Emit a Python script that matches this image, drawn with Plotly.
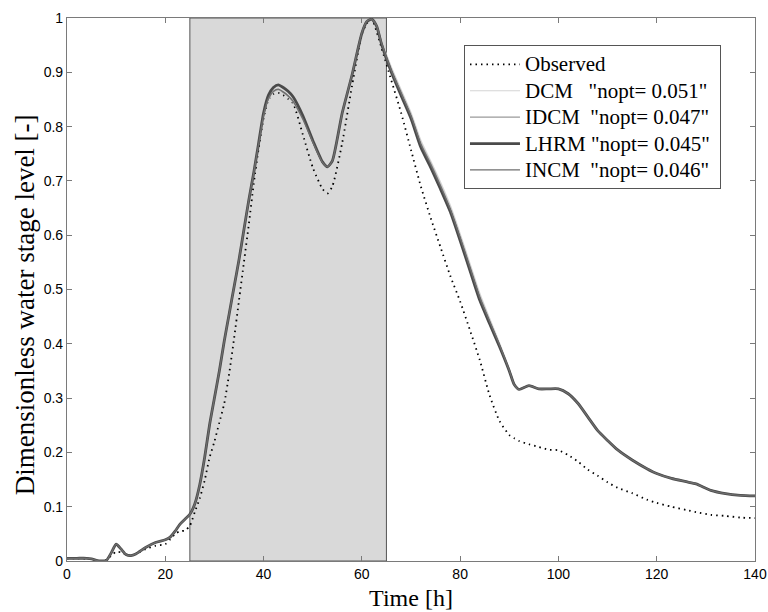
import plotly.graph_objects as go

# ---- data ----
time_h = [0, 2, 4, 5, 6, 7, 8, 9, 10, 11, 12, 13, 14, 16, 18, 20, 21, 22, 23, 24,
          25, 26, 27, 28, 29, 30, 31, 32, 33, 34, 35, 36, 37, 38, 39, 40, 41, 42, 43, 44,
          45, 46, 48, 50, 52, 53, 54, 56, 58, 60, 61, 62, 63, 64, 66, 68, 70, 72, 74, 76,
          78, 80, 82, 84, 86, 88, 90, 91, 92, 94, 96, 98, 100, 102, 104, 106, 108, 110, 112, 115,
          118, 120, 123, 126, 128, 131, 134, 137, 140]

observed = [0.005, 0.005, 0.004, 0.003, 0.000, 0.000, 0.002, 0.010, 0.017, 0.016, 0.012, 0.010, 0.013, 0.022, 0.028, 0.031, 0.040, 0.050, 0.055, 0.056,
            0.065, 0.090, 0.115, 0.148, 0.190, 0.220, 0.255, 0.290, 0.345, 0.410, 0.480, 0.550, 0.620, 0.695, 0.760, 0.815, 0.850, 0.860, 0.862, 0.858,
            0.851, 0.843, 0.785, 0.725, 0.685, 0.677, 0.690, 0.770, 0.875, 0.970, 0.990, 0.998, 0.975, 0.945, 0.885, 0.825, 0.757, 0.690, 0.632, 0.578,
            0.525, 0.478, 0.425, 0.370, 0.305, 0.258, 0.232, 0.226, 0.221, 0.215, 0.210, 0.205, 0.204, 0.195, 0.183, 0.168, 0.157, 0.145, 0.135, 0.125,
            0.113, 0.107, 0.100, 0.094, 0.090, 0.085, 0.083, 0.080, 0.079]

lhrm = [0.005, 0.005, 0.005, 0.004, 0.001, 0.000, 0.001, 0.015, 0.031, 0.022, 0.012, 0.010, 0.013, 0.025, 0.034, 0.039, 0.044, 0.055, 0.068, 0.077,
        0.086, 0.105, 0.140, 0.190, 0.250, 0.300, 0.350, 0.405, 0.455, 0.505, 0.555, 0.610, 0.665, 0.715, 0.770, 0.825, 0.858, 0.872, 0.877, 0.872,
        0.865, 0.855, 0.820, 0.775, 0.735, 0.726, 0.737, 0.825, 0.895, 0.972, 0.993, 0.998, 0.985, 0.952, 0.900, 0.857, 0.815, 0.762, 0.725, 0.685,
        0.643, 0.590, 0.535, 0.480, 0.437, 0.395, 0.350, 0.325, 0.316, 0.323, 0.317, 0.317, 0.317, 0.308, 0.290, 0.265, 0.240, 0.222, 0.205, 0.186,
        0.170, 0.161, 0.152, 0.146, 0.142, 0.130, 0.124, 0.121, 0.120]

dcm = [0.005, 0.005, 0.005, 0.004, 0.001, 0.000, 0.001, 0.015, 0.031, 0.022, 0.012, 0.010, 0.013, 0.025, 0.034, 0.039, 0.044, 0.055, 0.068, 0.077,
       0.086, 0.105, 0.140, 0.190, 0.250, 0.300, 0.350, 0.405, 0.455, 0.505, 0.555, 0.610, 0.665, 0.715, 0.768, 0.820, 0.850, 0.863, 0.867, 0.862,
       0.855, 0.845, 0.812, 0.770, 0.733, 0.725, 0.736, 0.825, 0.897, 0.975, 0.995, 0.999, 0.988, 0.958, 0.910, 0.868, 0.826, 0.775, 0.737, 0.698,
       0.655, 0.603, 0.548, 0.493, 0.447, 0.402, 0.354, 0.327, 0.317, 0.324, 0.318, 0.318, 0.318, 0.309, 0.291, 0.266, 0.241, 0.223, 0.206, 0.187,
       0.171, 0.162, 0.153, 0.147, 0.143, 0.131, 0.125, 0.122, 0.121]

idcm = [0.005, 0.005, 0.005, 0.004, 0.001, 0.000, 0.001, 0.015, 0.031, 0.022, 0.012, 0.010, 0.013, 0.025, 0.034, 0.039, 0.044, 0.055, 0.068, 0.077,
        0.086, 0.105, 0.140, 0.190, 0.250, 0.300, 0.350, 0.405, 0.455, 0.505, 0.555, 0.610, 0.665, 0.715, 0.768, 0.820, 0.851, 0.864, 0.868, 0.863,
        0.856, 0.846, 0.813, 0.771, 0.733, 0.725, 0.736, 0.825, 0.896, 0.974, 0.994, 0.998, 0.987, 0.956, 0.906, 0.864, 0.822, 0.770, 0.733, 0.693,
        0.650, 0.598, 0.543, 0.488, 0.443, 0.399, 0.352, 0.326, 0.316, 0.323, 0.317, 0.317, 0.317, 0.308, 0.290, 0.265, 0.240, 0.222, 0.205, 0.186,
        0.170, 0.161, 0.152, 0.146, 0.142, 0.130, 0.124, 0.121, 0.120]

incm = [0.005, 0.005, 0.005, 0.004, 0.001, 0.000, 0.001, 0.015, 0.031, 0.022, 0.012, 0.010, 0.013, 0.025, 0.034, 0.039, 0.044, 0.055, 0.068, 0.077,
        0.086, 0.105, 0.140, 0.190, 0.250, 0.300, 0.350, 0.405, 0.455, 0.505, 0.555, 0.610, 0.665, 0.715, 0.768, 0.821, 0.852, 0.865, 0.869, 0.864,
        0.857, 0.847, 0.814, 0.772, 0.734, 0.726, 0.737, 0.825, 0.896, 0.973, 0.994, 0.998, 0.986, 0.954, 0.903, 0.861, 0.819, 0.767, 0.730, 0.690,
        0.647, 0.595, 0.540, 0.485, 0.441, 0.398, 0.351, 0.325, 0.316, 0.323, 0.317, 0.317, 0.317, 0.308, 0.290, 0.265, 0.240, 0.222, 0.205, 0.186,
        0.170, 0.161, 0.152, 0.146, 0.142, 0.130, 0.124, 0.121, 0.120]

shade_start, shade_end = 25, 65

x_ticks = [0, 20, 40, 60, 80, 100, 120, 140]
y_ticks = [0, 0.1, 0.2, 0.3, 0.4, 0.5, 0.6, 0.7, 0.8, 0.9, 1]
y_tick_labels = ["0", "0.1", "0.2", "0.3", "0.4", "0.5", "0.6", "0.7", "0.8", "0.9", "1"]

NB = "\u00a0"
legend_labels = [
    "Observed",
    "DCM" + NB * 3 + '"nopt= 0.051"' + NB,
    "IDCM" + NB * 2 + '"nopt= 0.047"' + NB,
    "LHRM" + NB + '"nopt= 0.045"' + NB,
    "INCM" + NB * 2 + '"nopt= 0.046"' + NB,
]
names = ['<span style="font-size:21px">' + s + '</span>' for s in legend_labels]

fig = go.Figure()

fig.add_trace(go.Scatter(x=time_h, y=observed, mode="lines", name=names[0],
                         line=dict(color="black", width=1.8, dash="1.5px,4px", shape="spline", smoothing=0.6)))
fig.add_trace(go.Scatter(x=time_h, y=dcm, mode="lines", name=names[1],
                         line=dict(color="#d4d4d4", width=1.2, shape="spline", smoothing=0.6)))
fig.add_trace(go.Scatter(x=time_h, y=idcm, mode="lines", name=names[2],
                         line=dict(color="#9a9a9a", width=1.2, shape="spline", smoothing=0.6)))
fig.add_trace(go.Scatter(x=time_h, y=lhrm, mode="lines", name=names[3],
                         line=dict(color="#4a4a4a", width=2.8, shape="spline", smoothing=0.6)))
fig.add_trace(go.Scatter(x=time_h, y=incm, mode="lines", name=names[4],
                         line=dict(color="#6e6e6e", width=1.3, shape="spline", smoothing=0.6)))

fig.add_shape(type="rect", xref="x", yref="y", x0=shade_start, x1=shade_end, y0=0, y1=1,
              fillcolor="#d9d9d9", line=dict(color="#555555", width=1), layer="below")

axis_common = dict(showline=True, linecolor="#7a7a7a", linewidth=1.2, mirror="ticks",
                   ticks="inside", ticklen=5, tickcolor="#7a7a7a", showgrid=False, zeroline=False,
                   automargin=False,
                   tickfont=dict(family="Liberation Sans, Arial", size=14, color="black"))

fig.update_layout(
    width=768, height=612,
    margin=dict(l=67, r=13, t=18, b=51),
    paper_bgcolor="white", plot_bgcolor="white",
    xaxis=dict(range=[0, 140], tickvals=x_ticks, ticktext=[str(v) for v in x_ticks],
               title=dict(text="Time [h]", font=dict(family="Liberation Serif, Times New Roman", size=24, color="black"), standoff=8),
               **axis_common),
    yaxis=dict(range=[0, 1], tickvals=y_ticks, ticktext=y_tick_labels, **axis_common),
    legend=dict(x=0.577, y=0.95, xanchor="left", yanchor="top",
                bgcolor="white", bordercolor="#555555", borderwidth=1,
                font=dict(family="Liberation Serif, Times New Roman", size=18, color="black"),
                tracegroupgap=0, itemwidth=50),
    showlegend=True,
    annotations=[dict(text="Dimensionless water stage level [-]", textangle=-90,
                      xref="paper", yref="paper", x=-0.061, y=0.471,
                      xanchor="center", yanchor="middle", showarrow=False,
                      font=dict(family="Liberation Serif, Times New Roman", size=27, color="black"))],
)

fig.write_html("out.html", config={"displayModeBar": False},
               post_script="document.body.style.margin='0';document.body.style.overflow='hidden';")
